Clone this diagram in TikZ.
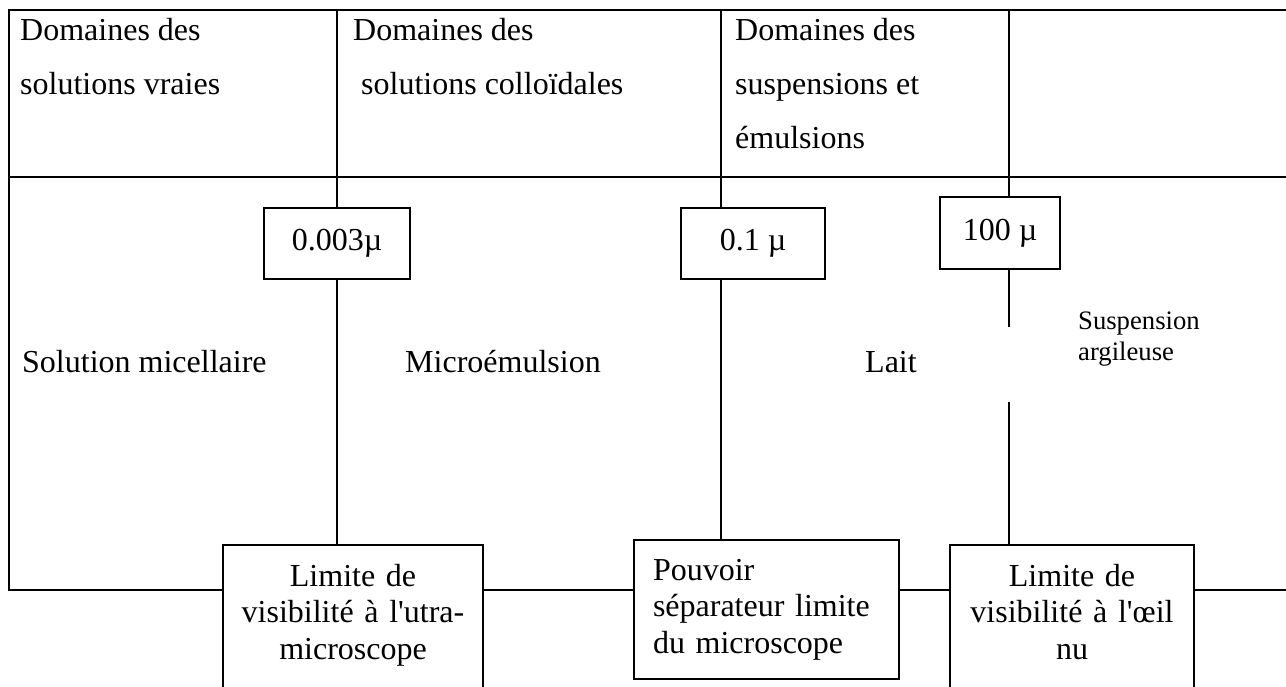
\documentclass[tikz,border=0pt]{standalone}
\usepackage{fontspec}
\setmainfont{Liberation Serif}
\begin{document}
\begin{tikzpicture}[x=1pt,y=-1pt,
  rule/.style={line width=2.4pt},
  link/.style={line width=2.2pt},
  valbox/.style={draw, line width=2pt, inner sep=0pt, font=\fontsize{32}{36.5}\selectfont},
  limbox/.style={draw, line width=2pt, anchor=north, inner ysep=19pt, font=\fontsize{32}{36.5}\selectfont},
  hdr/.style={anchor=north west, inner sep=0pt, align=left, font=\fontsize{32}{54}\selectfont},
  lbl/.style={anchor=base west, inner sep=0pt, font=\fontsize{32}{36.5}\selectfont},
  smalllbl/.style={anchor=north west, inner sep=0pt, align=left, font=\fontsize{26.67}{31}\selectfont},
]
\useasboundingbox (0,0) rectangle (1286,687);
\clip (0,0) rectangle (1286,687);

% column headings
\node[hdr] (h1) at (20,18) {Domaines des\\solutions vraies};
\node[hdr] (h2) at (353,18) {Domaines des\\\hspace*{8pt}solutions colloïdales};
\node[hdr] (h3) at (735,18) {Domaines des\\suspensions et\\émulsions};

% size limits
\node[valbox, minimum width=146pt, minimum height=71pt] (v1) at (337,243.5) {0.003µ};
\node[valbox, minimum width=144pt, minimum height=71pt] (v2) at (753,243.5) {0.1 µ};
\node[valbox, minimum width=120pt, minimum height=72pt] (v3) at (1000,233) {100 µ};

% examples
\node[lbl] (e1) at (22,372) {Solution micellaire};
\node[lbl] (e2) at (405,372) {Microémulsion};
\node[lbl] (e3) at (865,372) {Lait};
\node[smalllbl] (e4) at (1078,312) {Suspension\\argileuse};

% visibility limits (boxes run past the lower edge)
\node[limbox, inner xsep=6pt, text width=248pt, align=center] (lim1) at (353,544)
  {Limite de\\visibilité à l\textquotesingle utra-\\microscope\rule[-40pt]{0pt}{0pt}};
\node[limbox, inner xsep=19pt, text width=227pt, align=left] (lim2) at (766.5,539)
  {Pouvoir\\séparateur limite\\du microscope};
\node[limbox, inner xsep=6pt, text width=232pt, align=center] (lim3) at (1072,544)
  {Limite de\\visibilité à l\textquotesingle œil\\nu\rule[-40pt]{0pt}{0pt}};

% frame of the table
\coordinate (tl) at (9,10);
\coordinate (tr) at (1286,10);
\coordinate (ml) at (9,177);
\coordinate (mr) at (1286,177);
\coordinate (bl) at (9,590);
\coordinate (br) at (1286,590);
\coordinate (c1) at (337,10);
\coordinate (c2) at (721,10);
\coordinate (c3) at (1009,10);
\coordinate (g1) at (1009,327);
\coordinate (g2) at (1009,402);

\draw[rule] (tr) -- (tl) -- (bl) -- (bl -| lim1.west);
\draw[rule] (ml) -- (mr);
\draw[rule] (lim1.east |- bl) -- (lim2.west |- bl);
\draw[rule] (lim2.east |- bl) -- (lim3.west |- bl);
\draw[rule] (lim3.east |- bl) -- (br);

% vertical dividers through the limits
\draw[link] (c1) -- (v1.north);
\draw[link] (v1.south) -- (v1.south |- lim1.north);
\draw[link] (c2) -- (c2 |- v2.north);
\draw[link] (c2 |- v2.south) -- (c2 |- lim2.north);
\draw[link] (c3) -- (c3 |- v3.north);
\draw[link] (c3 |- v3.south) -- (g1);
\draw[link] (g2) -- (g2 |- lim3.north);
\end{tikzpicture}
\end{document}
